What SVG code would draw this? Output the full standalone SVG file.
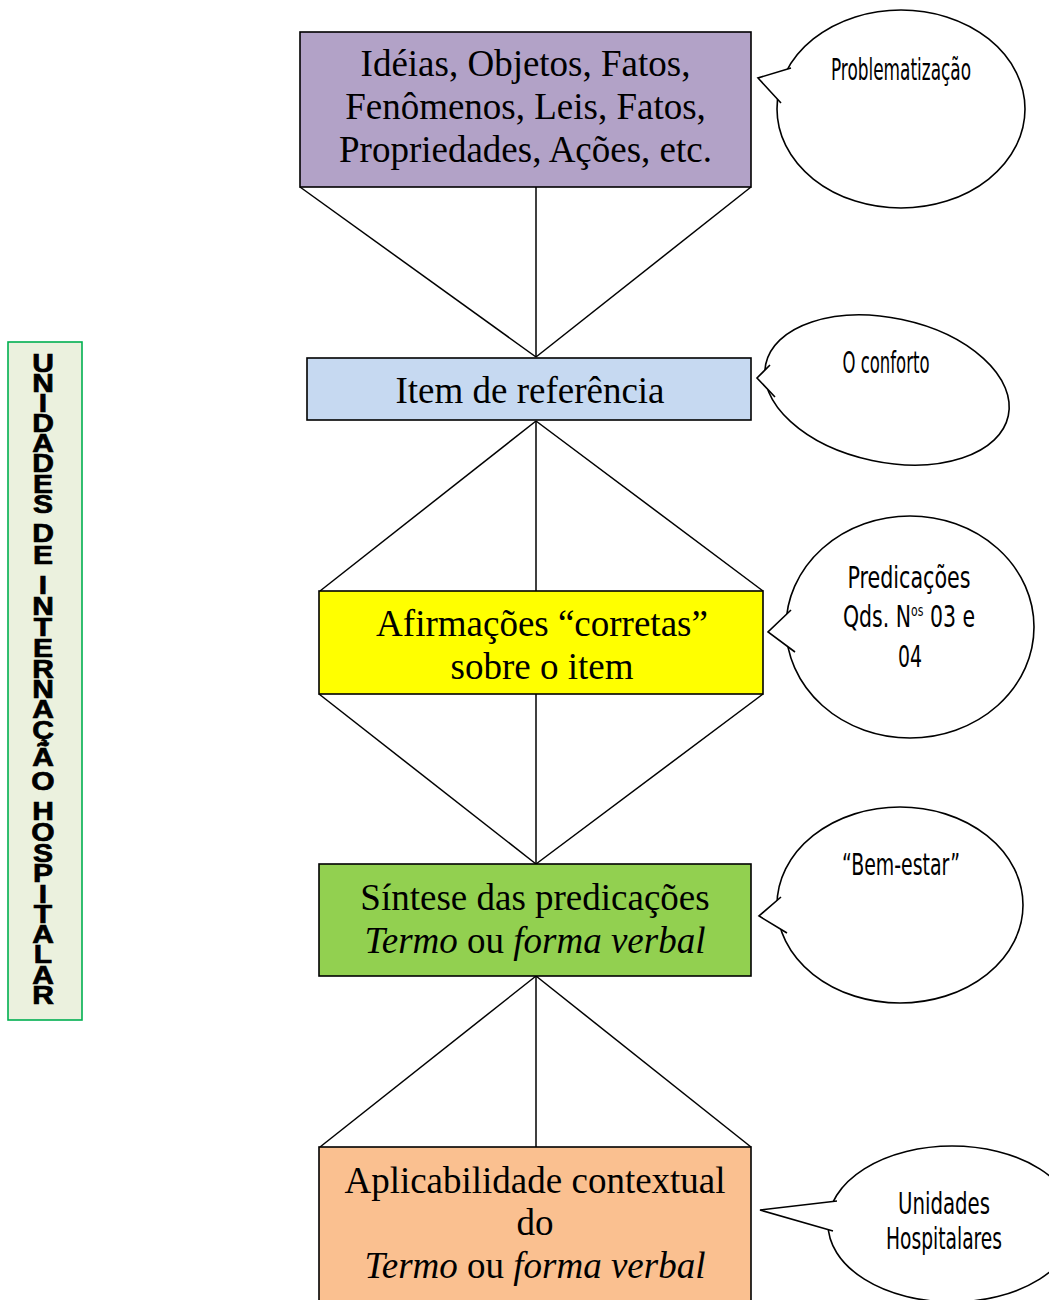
<svg xmlns="http://www.w3.org/2000/svg" width="1049" height="1300" viewBox="0 0 1049 1300">
  <style>
    .box { stroke: #000; stroke-width: 1.6; }
    .main { font-family: "Liberation Serif", "Times New Roman", serif; font-size: 37px; fill: #000; text-anchor: middle; }
    .it { font-style: italic; }
    .link { stroke: #000; stroke-width: 1.5; fill: none; }
    .bubble { fill: #fff; stroke: #000; stroke-width: 1.6; }
    .tailfill { fill: #fff; stroke: none; }
    .tail { fill: none; stroke: #000; stroke-width: 1.6; stroke-linejoin: miter; }
    .note { font-family: "DejaVu Sans Condensed", "Liberation Sans", sans-serif; font-size: 30px; fill: #000; text-anchor: middle; }
    .side { font-family: "Liberation Sans", Arial, sans-serif; font-weight: bold; font-size: 25px; fill: #000; stroke: #000; stroke-width: 0.7; text-anchor: middle; }
  </style>

  <rect width="1049" height="1300" fill="#fff"/>

  <!-- vertical side label, one upright letter per position -->
  <g id="side-label">
    <rect x="8" y="342" width="74" height="678" fill="#ebf1de" stroke="#00b050" stroke-width="1.6"/>
    <text class="side" transform="translate(43 0) scale(1.2 1)"
      x="0 0 0 0 0 0 0 0 0 0 0 0 0 0 0 0 0 0 0 0 0 0 0 0 0 0 0 0 0 0 0 0 0"
      y="372 392 412 432 452 472 493 513 520 542 564 570 594 615 636 657 678 698 718 739 766 790 795 820 841 862 882 903 923 943 963 984 1004">UNIDADES DE INTERNAÇÃO HOSPITALAR</text>
  </g>

  <!-- connectors between the levels -->
  <g id="connectors">
    <line class="link" x1="300" y1="187" x2="536" y2="357"/>
    <line class="link" x1="536" y1="187" x2="536" y2="357"/>
    <line class="link" x1="751" y1="187" x2="536" y2="357"/>

    <line class="link" x1="536" y1="421" x2="320" y2="591"/>
    <line class="link" x1="536" y1="421" x2="536" y2="591"/>
    <line class="link" x1="536" y1="421" x2="763" y2="591"/>

    <line class="link" x1="319" y1="694" x2="536" y2="864"/>
    <line class="link" x1="536" y1="694" x2="536" y2="864"/>
    <line class="link" x1="763" y1="694" x2="536" y2="864"/>

    <line class="link" x1="536" y1="976" x2="320" y2="1147"/>
    <line class="link" x1="536" y1="976" x2="536" y2="1147"/>
    <line class="link" x1="536" y1="976" x2="751" y2="1147"/>
  </g>

  <!-- level boxes -->
  <g id="ideias">
    <rect class="box" x="300" y="32" width="451" height="155" fill="#b2a2c7"/>
    <text class="main" x="525.5" y="76">Idéias, Objetos, Fatos,</text>
    <text class="main" x="525.5" y="119">Fenômenos, Leis, Fatos,</text>
    <text class="main" x="525.5" y="162">Propriedades, Ações, etc.</text>
  </g>

  <g id="item">
    <rect class="box" x="307" y="358" width="444" height="62" fill="#c6d9f1"/>
    <text class="main" x="530" y="403">Item de referência</text>
  </g>

  <g id="afirmacoes">
    <rect class="box" x="319" y="591" width="444" height="103" fill="#ffff00"/>
    <text class="main" x="542" y="636">Afirmações “corretas”</text>
    <text class="main" x="542" y="679">sobre o item</text>
  </g>

  <g id="sintese">
    <rect class="box" x="319" y="864" width="432" height="112" fill="#92d050"/>
    <text class="main" x="535" y="910">Síntese das predicações</text>
    <text class="main" x="535" y="953"><tspan class="it">Termo</tspan> ou <tspan class="it">forma verbal</tspan></text>
  </g>

  <g id="aplicabilidade">
    <rect class="box" x="319" y="1147" width="432" height="170" fill="#fac090"/>
    <text class="main" x="535" y="1193">Aplicabilidade contextual</text>
    <text class="main" x="535" y="1235">do</text>
    <text class="main" x="535" y="1278"><tspan class="it">Termo</tspan> ou <tspan class="it">forma verbal</tspan></text>
  </g>

  <!-- speech bubbles -->
  <g id="nota-problematizacao">
    <ellipse class="bubble" cx="901" cy="109" rx="124" ry="99"/>
    <polygon class="tailfill" points="791,68 758,78 781,103"/>
    <polyline class="tail" points="791,68 758,78 781,103"/>
    <text class="note" x="901" y="80" font-size="26" textLength="140" lengthAdjust="spacingAndGlyphs">Problematização</text>
  </g>

  <g id="nota-conforto">
    <ellipse class="bubble" cx="887" cy="390" rx="124" ry="72" transform="rotate(12 887 390)"/>
    <polygon class="tailfill" points="770,365 757,378 775,397"/>
    <polyline class="tail" points="770,365 757,378 775,397"/>
    <text class="note" x="886" y="373" textLength="87" lengthAdjust="spacingAndGlyphs">O conforto</text>
  </g>

  <g id="nota-predicacoes">
    <ellipse class="bubble" cx="910" cy="627" rx="124" ry="111"/>
    <polygon class="tailfill" points="791,610 768,632 795,652"/>
    <polyline class="tail" points="791,610 768,632 795,652"/>
    <text class="note" x="909" y="588" textLength="123" lengthAdjust="spacingAndGlyphs">Predicações</text>
    <text class="note" x="909" y="627" textLength="132" lengthAdjust="spacingAndGlyphs">Qds. N<tspan font-size="16" dy="-11">os</tspan><tspan dy="11"> 03 e</tspan></text>
    <text class="note" x="910" y="667" textLength="24" lengthAdjust="spacingAndGlyphs">04</text>
  </g>

  <g id="nota-bem-estar">
    <ellipse class="bubble" cx="900" cy="905" rx="123" ry="98"/>
    <polygon class="tailfill" points="781,897 759,916 787,933"/>
    <polyline class="tail" points="781,897 759,916 787,933"/>
    <text class="note" x="901" y="875" textLength="118" lengthAdjust="spacingAndGlyphs">“Bem-estar”</text>
  </g>

  <g id="nota-unidades">
    <ellipse class="bubble" cx="952" cy="1224" rx="124" ry="78"/>
    <polygon class="tailfill" points="837,1201 760,1210 833,1231"/>
    <polyline class="tail" points="837,1201 760,1210 833,1231"/>
    <text class="note" x="944" y="1214" textLength="92" lengthAdjust="spacingAndGlyphs">Unidades</text>
    <text class="note" x="944" y="1249" textLength="116" lengthAdjust="spacingAndGlyphs">Hospitalares</text>
  </g>
</svg>
